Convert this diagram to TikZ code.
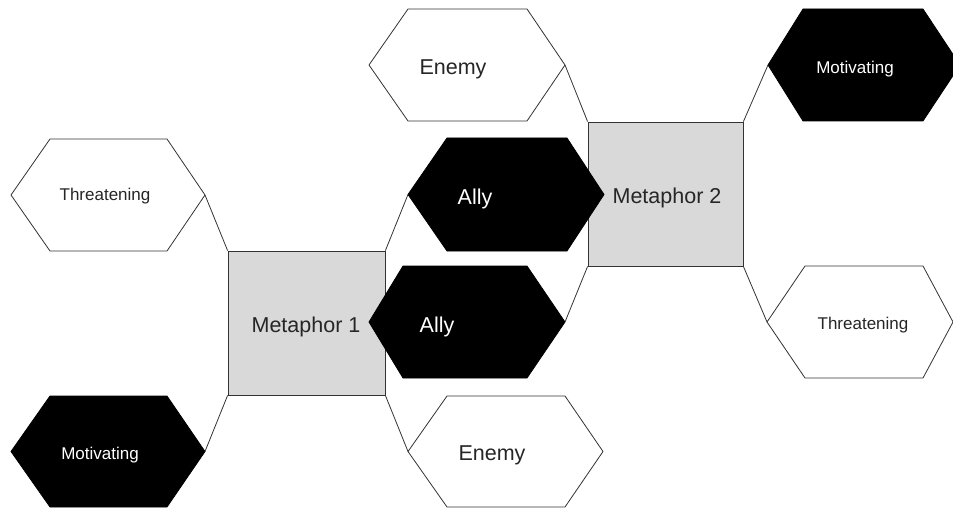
\documentclass[tikz,border=0pt]{standalone}
\usepackage{fontspec}
\setmainfont{Liberation Sans}
\definecolor{sqgray}{HTML}{D9D9D9}
\definecolor{edge}{HTML}{333333}
\newcommand\hexshape[8]{%
  \draw[#8] (#2,{(#6+#7)/2}) coordinate (#1-l) -- (#3,#6) -- (#4,#6) --
    (#5,{(#6+#7)/2}) coordinate (#1-r) -- (#4,#7) -- (#3,#7) -- cycle;}
\begin{document}
\begin{tikzpicture}[x=1pt,y=-1pt,
  sqbox/.style={draw=edge, fill=sqgray, line width=0.8pt, inner sep=0pt},
  whitehex/.style={draw=edge, fill=white, line width=0.8pt, line join=miter},
  blackhex/.style={draw=black, fill=black, line width=0.8pt},
  biglbl/.style={font=\fontsize{21.5}{24}\selectfont, inner sep=0pt},
  smalllbl/.style={font=\fontsize{17}{20}\selectfont, inner sep=0pt},
  conn/.style={draw=edge, line width=0.8pt}]
\useasboundingbox (0,0) rectangle (953,508);
\clip (0,0) rectangle (953,508);
% squares
\node[sqbox, minimum width=155pt, minimum height=144pt] (m2) at (665.5,194) {};
\node[sqbox, minimum width=157pt, minimum height=144pt] (m1) at (306.5,323) {};
% hexagons
\hexshape{enemyT}{369}{408}{527}{565}{9}{121}{whitehex}
\hexshape{motT}{768}{803}{923}{960}{9}{121}{blackhex}
\hexshape{thrL}{11}{50}{167}{205}{139}{251}{whitehex}
\hexshape{allyU}{408}{447}{567}{604}{138}{251}{blackhex}
\hexshape{allyL}{369}{403}{527}{565}{266}{378}{blackhex}
\hexshape{thrR}{767}{805}{923}{953}{266}{378}{whitehex}
\hexshape{motB}{11}{50}{167}{205}{396}{507}{blackhex}
\hexshape{enemyB}{408}{447}{565}{603}{396}{507}{whitehex}
% labels
\node[biglbl, text=black!85] (tM2) at (667,198) {Metaphor 2};
\node[biglbl, text=black!85] (tM1) at (306,327) {Metaphor 1};
\node[biglbl, text=black!85] (tEnemyT) at (453,69) {Enemy};
\node[smalllbl, text=white] (tMotT) at (855,69) {Motivating};
\node[smalllbl, text=black!85] (tThrL) at (105,196.5) {Threatening};
\node[biglbl, text=white] (tAllyU) at (475,198.5) {Ally};
\node[biglbl, text=white] (tAllyL) at (437,326.5) {Ally};
\node[smalllbl, text=black!85] (tThrR) at (863,325) {Threatening};
\node[smalllbl, text=white] (tMotB) at (100,455.5) {Motivating};
\node[biglbl, text=black!85] (tEnemyB) at (492,455.5) {Enemy};
% connectors
\draw[conn] (thrL-r) -- (m1.north west);
\draw[conn] (allyU-l) -- (m1.north east);
\draw[conn] (motB-r) -- (m1.south west);
\draw[conn] (enemyB-l) -- (m1.south east);
\draw[conn] (enemyT-r) -- (m2.north west);
\draw[conn] (motT-l) -- (m2.north east);
\draw[conn] (allyL-r) -- (m2.south west);
\draw[conn] (thrR-l) -- (m2.south east);
\end{tikzpicture}
\end{document}
